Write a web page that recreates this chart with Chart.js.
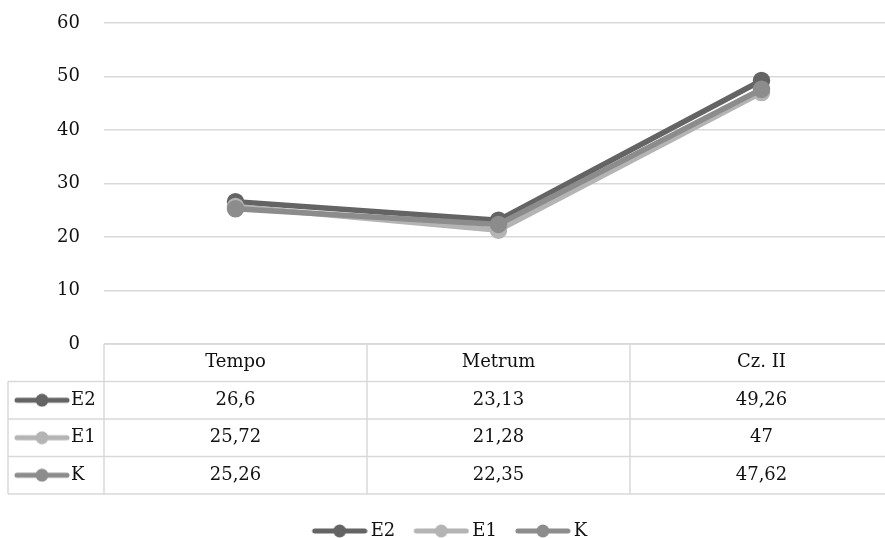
<!DOCTYPE html>
<html>
<head>
<meta charset="utf-8">
<script src="https://cdn.jsdelivr.net/npm/chart.js@4"></script>
<style>
  html, body { margin: 0; padding: 0; background: #fff; overflow: hidden; }
  #wrap { width: 893px; height: 550px; position: relative; }
</style>
</head>
<body>
<div id="wrap"><canvas id="lineChart" width="893" height="550"></canvas></div>
<script>
// chart data
var categories = ['Tempo', 'Metrum', 'Cz. II'];
var seriesNames = ['E2', 'E1', 'K'];
var valuesE2 = [26.6, 23.13, 49.26];
var valuesE1 = [25.72, 21.28, 47];
var valuesK = [25.26, 22.35, 47.62];
var yTicks = [0, 10, 20, 30, 40, 50, 60];

var colors = ['#646464', '#b4b4b4', '#8c8c8c'];
var fontFamily = '"DejaVu Serif", serif';
var fontSize = 18;
var gridColor = '#d9d9d9';

// little marker images (line + dot) for legend and table
// shift moves the symbol right inside a wider image (legend centers the image)
function makeMarker(color, shift) {
    var c = document.createElement('canvas');
    c.width = 56 + shift * 2; c.height = 14;
    var ctx = c.getContext('2d');
    var x0 = shift * 2;
    ctx.strokeStyle = color;
    ctx.lineWidth = 5;
    ctx.lineCap = 'round';
    ctx.beginPath();
    ctx.moveTo(x0 + 3, 7); ctx.lineTo(x0 + 53, 7);
    ctx.stroke();
    ctx.fillStyle = color;
    ctx.beginPath();
    ctx.arc(x0 + 28, 7, 6.5, 0, Math.PI * 2);
    ctx.fill();
    return c;
}
var markers = colors.map(function (c) { return makeMarker(c, 0); });
var legendMarkers = colors.map(function (c) { return makeMarker(c, 6); });

function fmt(v) {
    return String(v).replace('.', ',');
}

var seriesValues = [valuesE2, valuesE1, valuesK];

// data table under the plot
var tablePlugin = {
    id: 'dataTable',
    afterDraw: function (chart) {
        var ctx = chart.ctx;
        var xs = chart.scales.x;
        var area = chart.chartArea;
        var top = area.bottom;
        var rowH = 37.5;
        var nRows = seriesNames.length + 1;
        var bottom = top + rowH * nRows;
        var left = 8;
        var colW = (area.right - area.left) / categories.length;

        ctx.save();
        ctx.strokeStyle = gridColor;
        ctx.lineWidth = 1.5;
        ctx.beginPath();
        ctx.moveTo(area.left, top); ctx.lineTo(area.right, top);
        for (var r = 1; r <= nRows; r++) {
            var y = top + rowH * r;
            ctx.moveTo(left, y); ctx.lineTo(area.right, y);
        }
        ctx.moveTo(left, top + rowH); ctx.lineTo(left, bottom);
        for (var c = 0; c < categories.length; c++) {
            var x = area.left + colW * c;
            ctx.moveTo(x, top); ctx.lineTo(x, bottom);
        }
        ctx.stroke();

        ctx.fillStyle = '#111';
        ctx.font = fontSize + 'px ' + fontFamily;
        ctx.textBaseline = 'middle';
        ctx.textAlign = 'center';
        categories.forEach(function (cat, i) {
            ctx.fillText(cat, xs.getPixelForValue(i), top + rowH / 2);
        });
        seriesNames.forEach(function (name, s) {
            var cy = top + rowH * (s + 1.5);
            ctx.drawImage(markers[s], 14, cy - 7);
            ctx.textAlign = 'left';
            ctx.fillText(name, 71, cy);
            ctx.textAlign = 'center';
            seriesValues[s].forEach(function (v, i) {
                ctx.fillText(fmt(v), xs.getPixelForValue(i), cy);
            });
        });
        ctx.restore();
    }
};

var lineChart = new Chart(document.getElementById('lineChart'), {
    type: 'line',
    data: {
        labels: categories,
        datasets: seriesNames.map(function (name, s) {
            return {
                label: name,
                data: seriesValues[s],
                borderColor: colors[s],
                backgroundColor: colors[s],
                pointBackgroundColor: colors[s],
                pointBorderColor: colors[s],
                borderWidth: 5.5,
                pointRadius: 6,
                pointStyle: 'circle',
                order: seriesNames.length - s
            };
        })
    },
    options: {
        responsive: false,
        animation: false,
        layout: { autoPadding: false, padding: { top: 23, left: 0, right: 0, bottom: 0 } },
        plugins: {
            tooltip: { enabled: false },
            legend: {
                position: 'bottom',
                labels: {
                    usePointStyle: true,
                    pointStyleWidth: 56,
                    padding: 12,
                    color: '#111',
                    font: { family: fontFamily, size: fontSize },
                    generateLabels: function (chart) {
                        return chart.data.datasets.map(function (ds, i) {
                            return {
                                text: ds.label,
                                pointStyle: legendMarkers[i],
                                fillStyle: colors[i],
                                strokeStyle: colors[i],
                                lineWidth: 0,
                                fontColor: '#111',
                                datasetIndex: i,
                                hidden: false
                            };
                        });
                    }
                }
            }
        },
        scales: {
            x: {
                offset: true,
                grid: { display: false },
                border: { display: false },
                ticks: { display: false },
                afterFit: function (scale) { scale.height = 166; }
            },
            y: {
                min: 0,
                max: 60,
                afterBuildTicks: function (scale) {
                    scale.ticks = yTicks.map(function (v) { return { value: v }; });
                },
                grid: { color: gridColor, lineWidth: 1.5, drawTicks: false },
                border: { display: false },
                ticks: {
                    padding: 24,
                    color: '#111',
                    font: { family: fontFamily, size: fontSize }
                },
                afterFit: function (scale) {
                    scale.width = 104;
                    scale.paddingTop = 0;
                    scale.paddingBottom = 0;
                }
            }
        }
    },
    plugins: [tablePlugin]
});
</script>
</body>
</html>
